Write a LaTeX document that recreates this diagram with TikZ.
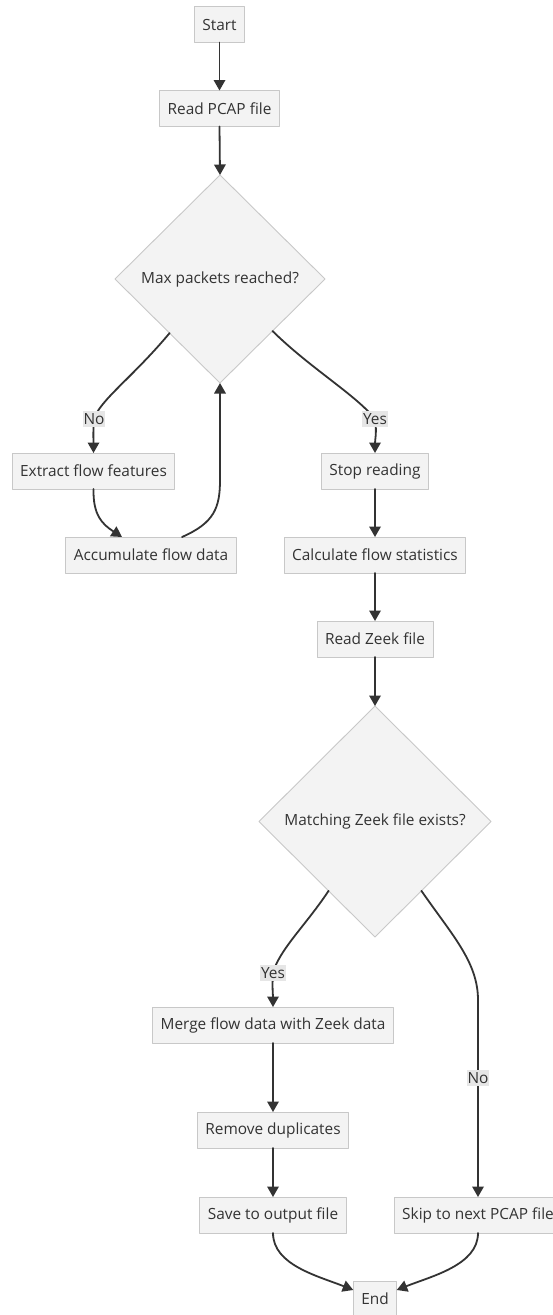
\documentclass[tikz,border=0pt]{standalone}
\usepackage{fontspec}
\setmainfont{Open Sans}
\usepackage{tikz}
\usetikzlibrary{arrows.meta,positioning,calc,shapes.geometric}
\definecolor{boxfill}{HTML}{F3F3F3}
\definecolor{boxline}{HTML}{C8C8C8}
\definecolor{ink}{HTML}{333333}
\definecolor{labelbg}{HTML}{E6E6E6}
\tikzset{
    every picture/.style={line cap=round,line join=round},
    procbox/.style={draw=boxline,fill=boxfill,line width=0.9pt,
      minimum height=36pt,inner xsep=8pt,inner ysep=2pt,outer sep=0pt,
      text=ink,align=center},
    decision/.style={diamond,draw=boxline,fill=boxfill,line width=0.9pt,
      aspect=1,inner sep=0pt,outer sep=0pt,text=ink,align=center},
    flowarrow/.style={-{Triangle[length=10.5pt,width=11.5pt]},draw=ink,
      line width=1.8pt},
    edgelabel/.style={fill=labelbg,text=ink,inner xsep=1pt,inner ysep=2.5pt}
}

\begin{document}
\begin{tikzpicture}[x=1pt,y=-1pt,font=\fontsize{15.4}{18}\selectfont]
  \useasboundingbox[fill=white] (0,0) rectangle (552,1315);
  % main column
  \node[procbox] (start) at (219.5,24.5) {Start};
  \node[procbox] (read) at (219.5,108.5) {Read PCAP file};
  \node[decision,minimum width=210pt,minimum height=208pt] (maxpkt) at (220,279) {Max packets reached?};
  % loop on the left
  \node[procbox] (extract) at (93.5,471) {Extract flow features};
  \node[procbox] (accum) at (151,555) {Accumulate flow data};
  % after the loop
  \node[procbox] (stopread) at (375,471) {Stop reading};
  \node[procbox] (calcstats) at (375,555) {Calculate flow statistics};
  \node[procbox] (readzeek) at (375,639) {Read Zeek file};
  \node[decision,minimum width=232pt,minimum height=231pt] (match) at (375,821.5) {Matching Zeek file exists?};
  \node[procbox] (merge) at (273,1025) {Merge flow data with Zeek data};
  \node[procbox] (dedup) at (273,1130) {Remove duplicates};
  \node[procbox] (save) at (273,1215) {Save to output file};
  \node[procbox] (skip) at (478,1215) {Skip to next PCAP file};
  \node[procbox] (finish) at (375,1299) {End};

  \draw[flowarrow] (start.south) -- (read.north);
  \draw[flowarrow] (read.south) -- (maxpkt.north);
  \draw[flowarrow] ($(maxpkt.west)!0.52!(maxpkt.south)$)
    .. controls (132,378) and (100,400) .. (94,419) node[edgelabel]{No}
    .. controls (93,432) and (93.5,440) .. (extract.north);
  \draw[flowarrow] (extract.south) .. controls (93,515) and (102,524) .. ($(accum.north)+(-29,0)$);
  \draw[flowarrow] ($(accum.north)+(31,0)$) .. controls (214,523) and (220,508) .. (220,480) -- (maxpkt.south);
  \draw[flowarrow] ($(maxpkt.east)!0.5!(maxpkt.south)$)
    .. controls (310,368) and (356,395) .. (375,419) node[edgelabel]{Yes}
    .. controls (377,432) and (375,440) .. (stopread.north);
  \draw[flowarrow] (stopread.south) -- (calcstats.north);
  \draw[flowarrow] (calcstats.south) -- (readzeek.north);
  \draw[flowarrow] (readzeek.south) -- (match.north);
  \draw[flowarrow] ($(match.west)!0.6!(match.south)$)
    .. controls (306,925) and (279,950) .. (273,973) node[edgelabel]{Yes}
    .. controls (272,987) and (273,995) .. (merge.north);
  \draw[flowarrow] ($(match.east)!0.6!(match.south)$)
    .. controls (452,935) and (478,962) .. (478,1000) -- (478,1078) node[edgelabel]{No}
    -- (skip.north);
  \draw[flowarrow] (merge.south) -- (dedup.north);
  \draw[flowarrow] (dedup.south) -- (save.north);
  \draw[flowarrow] (save.south) .. controls (273,1265) and (318,1276) .. ($(finish.west)+(0,-9)$);
  \draw[flowarrow] (skip.south) .. controls (478,1265) and (432,1276) .. ($(finish.east)+(0,-9)$);
\end{tikzpicture}
\end{document}
